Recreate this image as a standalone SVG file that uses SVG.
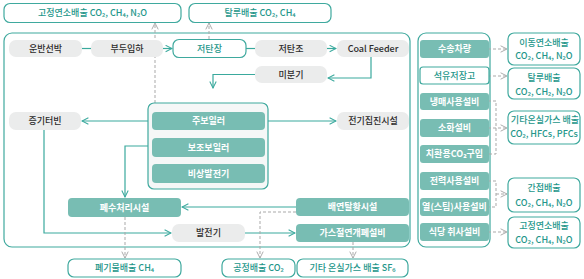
<svg xmlns="http://www.w3.org/2000/svg" width="584" height="279" viewBox="0 0 584 279">
<style>
text{font-family:"Noto Sans CJK KR","Noto Sans",sans-serif;font-size:9px;font-weight:500;text-anchor:middle}
.frame{fill:none;stroke:#3fa99e;stroke-width:1.2}
.out{fill:#fff;stroke:#3fa99e;stroke-width:1.2}
.gray{fill:#ebecec}
.teal{fill:#78bdb3}
.grp{fill:#f5f7f7;stroke:#3fa99e;stroke-width:1.2}
.tg{fill:#2b2b2b}
.tw{fill:#fff;font-weight:700}
.tt{fill:#23968a}
.ln{fill:none;stroke:#3aa99d;stroke-width:1.2}
.ds{fill:none;stroke:#a9a9a9;stroke-width:1;stroke-dasharray:3 2}
</style>
<defs>
<marker id="at" viewBox="0 0 10 10" refX="9" refY="5" markerWidth="8" markerHeight="8" markerUnits="userSpaceOnUse" orient="auto"><path d="M1,1 L9,5 L1,9" fill="none" stroke="#3aa99d" stroke-width="1.3"/></marker>
<marker id="ag" viewBox="0 0 10 10" refX="9" refY="5" markerWidth="8" markerHeight="8" markerUnits="userSpaceOnUse" orient="auto"><path d="M1,1 L9,5 L1,9" fill="none" stroke="#a9a9a9" stroke-width="1.2"/></marker>
</defs>
<rect x="0" y="0" width="584" height="279" fill="#fff"/>

<g id="frames">
<rect class="frame" x="4" y="33" width="406" height="214" rx="8"/>
<rect class="frame" x="418" y="33" width="72" height="214" rx="8"/>
</g>

<g id="connectors">
<path class="ln" d="M82,48.5 H91"/>
<path class="ln" d="M163,48.5 H172" marker-end="url(#at)"/>
<path class="ln" d="M246,48.5 H255"/>
<path class="ln" d="M327,48.5 H336" marker-end="url(#at)"/>
<path class="ln" d="M371,57 V78 H328" marker-end="url(#at)"/>
<path class="ln" d="M255,74.5 H213 V88" marker-end="url(#at)"/>
<path class="ln" d="M148,121 H82" marker-end="url(#at)"/>
<path class="ln" d="M265,121 H336" marker-end="url(#at)"/>
<path class="ln" d="M148,146 H125 V197" marker-end="url(#at)"/>
<path class="ln" d="M44,130 V233 H171" marker-end="url(#at)"/>
<path class="ln" d="M245,233 H295" marker-end="url(#at)"/>
<path class="ln" d="M296,207 H182" marker-end="url(#at)"/>
<path class="ds" d="M155,103 V23" marker-end="url(#ag)"/>
<path class="ds" d="M209,39 V23" marker-end="url(#ag)"/>
<path class="ds" d="M296,212 H260 V258" marker-end="url(#ag)"/>
<path class="ds" d="M353,242 V258" marker-end="url(#ag)"/>
<path class="ds" d="M125,217 V258" marker-end="url(#ag)"/>
<path class="ds" d="M488,49 H507" marker-end="url(#ag)"/>
<path class="ds" d="M488,76 H507" marker-end="url(#ag)"/>
<path class="ds" d="M488,101 H496 V154 H488"/>
<path class="ds" d="M488,128 H507" marker-end="url(#ag)"/>
<path class="ds" d="M488,181 H496 V207 H488"/>
<path class="ds" d="M496,194 H507" marker-end="url(#ag)"/>
<path class="ds" d="M488,232 H507" marker-end="url(#ag)"/>
</g>

<g id="n-top1"><rect class="out" x="4" y="3.5" width="177" height="19" rx="6"/><text class="tt" x="92.5" y="16">고정연소배출 CO₂, CH₄, N₂O</text></g>
<g id="n-top2"><rect class="out" x="189" y="3.5" width="142" height="19" rx="6"/><text class="tt" x="260" y="16">탈루배출 CO₂, CH₄</text></g>

<g id="n-ship"><rect class="gray" x="9" y="40" width="73" height="17" rx="7"/><text class="tg" x="45.5" y="51.8">운반선박</text></g>
<g id="n-dock"><rect class="gray" x="91" y="40" width="72" height="17" rx="7"/><text class="tg" x="127" y="51.8">부두입하</text></g>
<g id="n-yard"><rect class="out" x="173" y="39.5" width="73" height="18" rx="6"/><text class="tt" x="209.5" y="51.8">저탄장</text></g>
<g id="n-bunker"><rect class="gray" x="255" y="40" width="72" height="17" rx="7"/><text class="tg" x="291" y="51.8">저탄조</text></g>
<g id="n-feeder"><rect class="gray" x="337" y="40" width="72" height="17" rx="7"/><text class="tg" x="373" y="51.8">Coal Feeder</text></g>
<g id="n-mill"><rect class="gray" x="255" y="66" width="72" height="17" rx="7"/><text class="tg" x="291" y="77.8">미분기</text></g>

<g id="n-turbine"><rect class="gray" x="9" y="112" width="72" height="18" rx="7"/><text class="tg" x="45" y="124.2">증기터빈</text></g>
<g id="n-esp"><rect class="gray" x="337" y="112" width="72" height="18" rx="7"/><text class="tg" x="373" y="124.2">전기집진시설</text></g>

<g id="n-boilers">
<rect class="grp" x="148" y="103" width="120" height="86" rx="6"/>
<rect class="teal" x="152" y="112" width="113" height="18" rx="4"/><text class="tw" x="208.5" y="124.2">주보일러</text>
<rect class="teal" x="152" y="138" width="113" height="19" rx="4"/><text class="tw" x="208.5" y="150.7">보조보일러</text>
<rect class="teal" x="152" y="164" width="113" height="19" rx="4"/><text class="tw" x="208.5" y="176.7">비상발전기</text>
</g>

<g id="n-waste"><rect class="teal" x="68" y="198" width="113" height="19" rx="4"/><text class="tw" x="124.5" y="210.7">폐수처리시설</text></g>
<g id="n-fgd"><rect class="teal" x="296" y="198" width="113" height="18" rx="4"/><text class="tw" x="352.5" y="210.2">배연탈황시설</text></g>
<g id="n-gen"><rect class="gray" x="172" y="224" width="73" height="18" rx="7"/><text class="tg" x="208.5" y="236.2">발전기</text></g>
<g id="n-gis"><rect class="teal" x="296" y="224" width="113" height="18" rx="4"/><text class="tw" x="352.5" y="236.2">가스절연개폐설비</text></g>

<g id="n-bot1"><rect class="out" x="68" y="259" width="113" height="18" rx="6"/><text class="tt" x="124.5" y="271.2">폐기물배출 CH₄</text></g>
<g id="n-bot2"><rect class="out" x="222" y="259" width="73" height="18" rx="6"/><text class="tt" x="258.5" y="271.2">공정배출 CO₂</text></g>
<g id="n-bot3"><rect class="out" x="297" y="259" width="111" height="18" rx="6"/><text class="tt" x="352.5" y="271.2">기타 온실가스 배출 SF₆</text></g>

<g id="n-vehicle"><rect class="teal" x="420" y="40" width="69" height="18" rx="3"/><text class="tw" x="454.5" y="52.2">수송차량</text></g>
<g id="n-oil"><rect class="out" x="420" y="67" width="69" height="17" rx="3"/><text class="tt" x="454.5" y="78.8" font-weight="700">석유저장고</text></g>
<g id="n-refr"><rect class="teal" x="420" y="93" width="69" height="17" rx="3"/><text class="tw" x="454.5" y="104.8">냉매사용설비</text></g>
<g id="n-fire"><rect class="teal" x="420" y="119" width="69" height="18" rx="3"/><text class="tw" x="454.5" y="131.2">소화설비</text></g>
<g id="n-co2"><rect class="teal" x="420" y="145" width="69" height="18" rx="3"/><text class="tw" x="454.5" y="157.2">치환용CO₂구입</text></g>
<g id="n-power"><rect class="teal" x="420" y="172" width="69" height="18" rx="3"/><text class="tw" x="454.5" y="184.2">전력사용설비</text></g>
<g id="n-steam"><rect class="teal" x="420" y="198" width="69" height="18" rx="3"/><text class="tw" x="454.5" y="210.2">열(스팀)사용설비</text></g>
<g id="n-kitchen"><rect class="teal" x="420" y="223" width="69" height="18" rx="3"/><text class="tw" x="454.5" y="235.2">식당 취사설비</text></g>

<g id="n-r1"><rect class="out" x="508" y="33" width="72" height="32" rx="6"/><text class="tt" x="544" y="46">이동연소배출</text><text class="tt" x="544" y="59">CO₂, CH₄, N₂O</text></g>
<g id="n-r2"><rect class="out" x="508" y="68" width="72" height="31" rx="6"/><text class="tt" x="544" y="81">탈루배출</text><text class="tt" x="544" y="95">CO₂, CH₂, N₂O</text></g>
<g id="n-r3"><rect class="out" x="508" y="111" width="72" height="33" rx="6"/><text class="tt" x="545" y="123">기타온실가스 배출</text><text class="tt" x="544" y="137">CO₂,  HFCs, PFCs</text></g>
<g id="n-r4"><rect class="out" x="508" y="178" width="72" height="34" rx="6"/><text class="tt" x="544" y="191">간접배출</text><text class="tt" x="544" y="206">CO₂, CH₄, N₂O</text></g>
<g id="n-r5"><rect class="out" x="508" y="217" width="72" height="31" rx="6"/><text class="tt" x="544" y="229">고정연소배출</text><text class="tt" x="544" y="243">CO₂, CH₄, N₂O</text></g>
</svg>
